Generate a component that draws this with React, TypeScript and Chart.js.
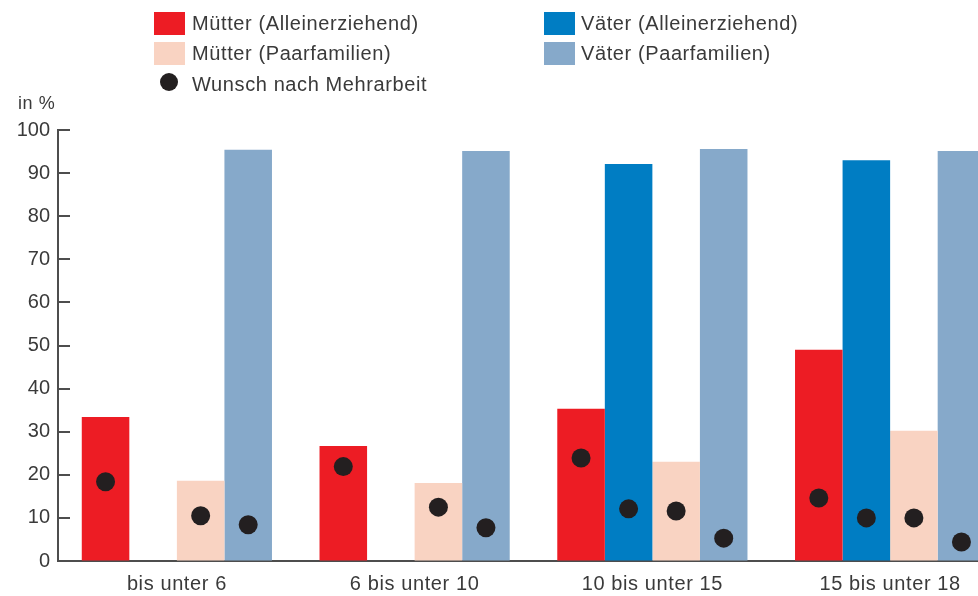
import React, { useEffect, useRef } from "react";
import { Chart, registerables } from "chart.js";

Chart.register(...registerables);

const categories = ["bis unter 6", "6 bis unter 10", "10 bis unter 15", "15 bis unter 18"];
const seriesLabels = [
  "Mütter (Alleinerziehend)",
  "Väter (Alleinerziehend)",
  "Mütter (Paarfamilien)",
  "Väter (Paarfamilien)",
];
const muetterAllein = [33.4, 26.7, 35.3, 49.0];
const vaeterAllein = [null, null, 92.1, 93.0];
const muetterPaar = [18.6, 18.1, 23.0, 30.2];
const vaeterPaar = [95.4, 95.1, 95.6, 95.1];

const wunschMuetterAllein = [18.4, 21.9, 23.9, 14.6];
const wunschVaeterAllein = [null, null, 12.1, 10.0];
const wunschMuetterPaar = [10.5, 12.5, 11.6, 10.0];
const wunschVaeterPaar = [8.4, 7.7, 5.3, 4.4];
const wunschLabel = "Wunsch nach Mehrarbeit";

const yTicks = [0, 10, 20, 30, 40, 50, 60, 70, 80, 90, 100];

const COLORS = ["#ED1C24", "#007DC3", "#F9D3C2", "#86A9CA"];
const DOT = "#231F20";
const TEXT = "#3a3a3a";
const AXIS = "#4d4d4d";
const FONT = "'Liberation Sans', Arial, sans-serif";
const FONT_SIZE = 20;
const LETTER = "0.6px";
const DOT_RADIUS = 9.5;

const barSeries = [muetterAllein, vaeterAllein, muetterPaar, vaeterPaar];
const dotSeries = [wunschMuetterAllein, wunschVaeterAllein, wunschMuetterPaar, wunschVaeterPaar];

const wishDots = {
  id: "wishDots",
  afterDatasetsDraw(chart: any) {
    const y = chart.scales.y;
    const ctx = chart.ctx;
    ctx.save();
    ctx.fillStyle = DOT;
    dotSeries.forEach((series, k) => {
      const meta = chart.getDatasetMeta(k);
      series.forEach((v, i) => {
        if (v == null) return;
        const el = meta.data[i];
        if (!el) return;
        ctx.beginPath();
        ctx.arc(el.x, y.getPixelForValue(v), DOT_RADIUS, 0, Math.PI * 2);
        ctx.fill();
      });
    });
    ctx.restore();
  },
};

const axisDecor = {
  id: "axisDecor",
  afterDraw(chart: any) {
    const y = chart.scales.y;
    const x = chart.scales.x;
    const area = chart.chartArea;
    const ctx = chart.ctx;
    ctx.save();
    ctx.strokeStyle = AXIS;
    ctx.lineWidth = 2;
    y.ticks.forEach((t: any) => {
      const py = Math.round(y.getPixelForValue(t.value));
      ctx.beginPath();
      ctx.moveTo(area.left, py);
      ctx.lineTo(area.left + 12, py);
      ctx.stroke();
    });
    ctx.fillStyle = TEXT;
    ctx.font = `${FONT_SIZE}px ${FONT}`;
    (ctx as any).letterSpacing = LETTER;
    ctx.textAlign = "center";
    ctx.textBaseline = "alphabetic";
    categories.forEach((c, i) => {
      const px = x.getPixelForTick(i);
      ctx.fillText(c, px, area.bottom + 29);
    });
    ctx.restore();
  },
};

export default function App() {
  const ref = useRef<HTMLCanvasElement | null>(null);

  useEffect(() => {
    if (!ref.current) return;
    const chart = new Chart(ref.current, {
      type: "bar",
      data: {
        labels: categories,
        datasets: barSeries.map((d, k) => ({
          label: seriesLabels[k],
          data: d,
          backgroundColor: COLORS[k],
          borderWidth: 0,
        })),
      },
      options: {
        animation: false,
        responsive: false,
        maintainAspectRatio: false,
        categoryPercentage: 0.8,
        barPercentage: 1,
        layout: { padding: { top: 130, right: 1, left: 0, bottom: 0 } },
        plugins: { legend: { display: false }, tooltip: { enabled: false } },
        scales: {
          x: {
            grid: { display: true, drawOnChartArea: false, drawTicks: false },
            border: { display: true, color: AXIS, width: 2 },
            ticks: { display: false },
            afterFit: (s: any) => { s.height = 35; },
          },
          y: {
            min: 0,
            max: 100,
            afterBuildTicks: (s: any) => { s.ticks = yTicks.map((v) => ({ value: v })); },
            grid: { display: true, drawOnChartArea: false, drawTicks: false },
            border: { display: true, color: AXIS, width: 2 },
            ticks: { color: TEXT, font: { family: FONT, size: FONT_SIZE }, padding: 8 },
            afterFit: (s: any) => { s.width = 58; },
          },
        },
      },
      plugins: [wishDots, axisDecor],
    } as any);
    return () => chart.destroy();
  }, []);

  const legendText: React.CSSProperties = {
    position: "absolute",
    fontFamily: FONT,
    fontSize: FONT_SIZE,
    letterSpacing: LETTER,
    color: TEXT,
    height: 23,
    lineHeight: "23px",
    whiteSpace: "nowrap",
  };
  const sw = (left: number, top: number, color: string): React.CSSProperties => ({
    position: "absolute", left, top, width: 31, height: 23, background: color,
  });

  return (
    <div style={{ position: "fixed", left: 0, top: 0, width: 978, height: 596, overflow: "hidden", background: "#fff" }}>
      <canvas ref={ref} width={1010} height={596} style={{ position: "absolute", left: 0, top: 0, width: 1010, height: 596 }} />
      <div style={sw(154, 12, COLORS[0])} />
      <div style={{ ...legendText, left: 192, top: 12 }}>{seriesLabels[0]}</div>
      <div style={sw(154, 42, COLORS[2])} />
      <div style={{ ...legendText, left: 192, top: 42 }}>{seriesLabels[2]}</div>
      <div style={sw(544, 12, COLORS[1])} />
      <div style={{ ...legendText, left: 581, top: 12 }}>{seriesLabels[1]}</div>
      <div style={sw(544, 42, COLORS[3])} />
      <div style={{ ...legendText, left: 581, top: 42 }}>{seriesLabels[3]}</div>
      <div style={{ position: "absolute", left: 160, top: 73, width: 18, height: 18, borderRadius: "50%", background: DOT }} />
      <div style={{ ...legendText, left: 192, top: 73 }}>{wunschLabel}</div>
      <div style={{ ...legendText, left: 18, top: 92, fontSize: 18 }}>in %</div>
    </div>
  );
}
